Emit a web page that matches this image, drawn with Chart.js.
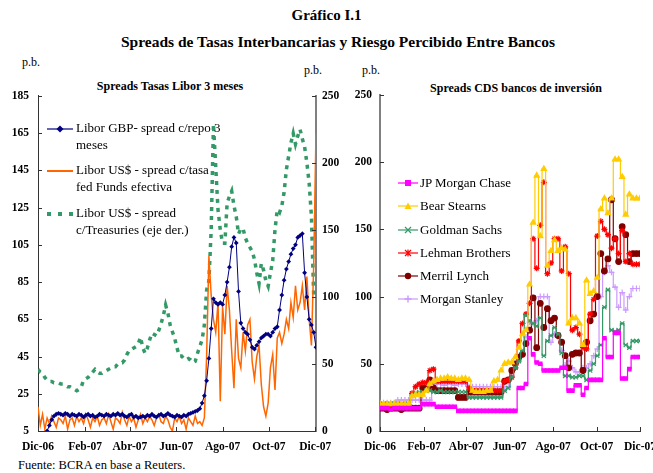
<!DOCTYPE html>
<html lang="es">
<head>
<meta charset="utf-8">
<title>Gráfico I.1</title>
<script src="https://cdn.jsdelivr.net/npm/chart.js@4.4.1/dist/chart.umd.min.js"></script>
<style>
  html, body { margin: 0; padding: 0; background: #fff; }
  body { width: 653px; height: 473px; overflow: hidden; position: relative;
         font-family: "Liberation Serif", "Times New Roman", serif; color: #000; }
  .t { position: absolute; white-space: nowrap; line-height: 1; }
  .b { font-weight: bold; }
  canvas { position: absolute; }
  .leg { position: absolute; font-size: 13px; line-height: 16.5px; white-space: nowrap; }
  .leg svg { position: absolute; left: 0; }
</style>
</head>
<body>
<div class="t b" style="left:0;width:653px;text-align:center;top:8px;font-size:15px;">Gráfico I.1</div>
<div class="t b" style="left:0;width:676px;text-align:center;top:34px;font-size:15.5px;">Spreads de Tasas Interbancarias y Riesgo Percibido Entre Bancos</div>
<div class="t" style="left:22px;top:56px;font-size:12px;">p.b.</div>
<div class="t" style="left:304px;top:64px;font-size:12px;">p.b.</div>
<div class="t" style="left:362px;top:64px;font-size:12px;">p.b.</div>
<div class="t b" style="left:70px;width:200px;text-align:center;top:80px;font-size:12px;">Spreads Tasas Libor 3 meses</div>
<div class="t b" style="left:416px;width:200px;text-align:center;top:82px;font-size:12px;">Spreads CDS bancos de inversión</div>
<div class="t" style="left:18px;top:459px;font-size:12.5px;">Fuente: BCRA en base a Reuters.</div>

<canvas id="liborChart" width="352" height="380" style="left:0;top:80px;"></canvas>
<canvas id="cdsChart" width="335" height="380" style="left:335px;top:80px;"></canvas>

<!-- leyenda izquierda -->
<div class="leg" style="left:47px;top:120px;">
  <svg width="26" height="10" style="top:4px"><line x1="0" y1="5" x2="26" y2="5" stroke="#000080" stroke-width="1.2"/><path d="M13 1.5 L16.5 5 L13 8.5 L9.5 5Z" fill="#000080"/></svg>
  <div style="margin-left:29px">Libor GBP- spread c/repo 3<br>meses</div>
</div>
<div class="leg" style="left:47px;top:162px;">
  <svg width="26" height="10" style="top:4px"><line x1="0" y1="5" x2="26" y2="5" stroke="#ff6600" stroke-width="2"/></svg>
  <div style="margin-left:29px">Libor US$ - spread c/tasa<br>fed Funds efectiva</div>
</div>
<div class="leg" style="left:47px;top:205px;">
  <svg width="26" height="10" style="top:4px"><line x1="0" y1="5" x2="26" y2="5" stroke="#339966" stroke-width="4" stroke-dasharray="4 7"/></svg>
  <div style="margin-left:29px">Libor US$ - spread<br>c/Treasuries (eje der.)</div>
</div>

<!-- leyenda derecha -->
<div class="leg" style="left:398px;top:175px;">
  <svg width="20" height="10" style="top:3px"><line x1="0" y1="5" x2="20" y2="5" stroke="#ff00ff" stroke-width="1.2"/><rect x="7" y="2" width="6" height="6" fill="#ff00ff"/></svg>
  <div style="margin-left:22px">JP Morgan Chase</div>
</div>
<div class="leg" style="left:398px;top:198px;">
  <svg width="20" height="10" style="top:3px"><line x1="0" y1="5" x2="20" y2="5" stroke="#ffcc00" stroke-width="1.2"/><path d="M10 1.5 L13.5 8 L6.5 8Z" fill="#ffcc00"/></svg>
  <div style="margin-left:22px">Bear Stearns</div>
</div>
<div class="leg" style="left:398px;top:222px;">
  <svg width="20" height="10" style="top:3px"><line x1="0" y1="5" x2="20" y2="5" stroke="#339966" stroke-width="1.2"/><path d="M7 2 L13 8 M13 2 L7 8" stroke="#339966" stroke-width="1.2"/></svg>
  <div style="margin-left:22px">Goldman Sachs</div>
</div>
<div class="leg" style="left:398px;top:245px;">
  <svg width="20" height="10" style="top:3px"><line x1="0" y1="5" x2="20" y2="5" stroke="#ff0000" stroke-width="1.2"/><path d="M7 2 L13 8 M13 2 L7 8 M10 1.5 L10 8.5" stroke="#ff0000" stroke-width="1.2"/></svg>
  <div style="margin-left:22px">Lehman Brothers</div>
</div>
<div class="leg" style="left:398px;top:268px;">
  <svg width="20" height="10" style="top:3px"><line x1="0" y1="5" x2="20" y2="5" stroke="#800000" stroke-width="1.2"/><circle cx="10" cy="5" r="3.2" fill="#800000"/></svg>
  <div style="margin-left:22px">Merril Lynch</div>
</div>
<div class="leg" style="left:398px;top:291px;">
  <svg width="20" height="10" style="top:3px"><line x1="0" y1="5" x2="20" y2="5" stroke="#cc99ff" stroke-width="1.2"/><path d="M10 1.5 L10 8.5 M6.5 5 L13.5 5" stroke="#cc99ff" stroke-width="1.4"/></svg>
  <div style="margin-left:22px">Morgan Stanley</div>
</div>

<script>
// Marcas del eje x (días desde el 1-dic-06)
const monthDays = [0, 62, 121, 182, 243, 304, 365];
const monthLabels = ['Dic-06', 'Feb-07', 'Abr-07', 'Jun-07', 'Ago-07', 'Oct-07', 'Dic-07'];
const liborLeftTicks = [5, 25, 45, 65, 85, 105, 125, 145, 165, 185];

// Libor: un dato cada 3 días
const gbpRepo = [null, null, null, null, 5, 8, 11, 13, 14, 14.5,
  14, 13.5, 14.5, 14, 13, 14, 13.5, 13, 14, 13.5,
  12.5, 13.5, 14, 13, 13.5, 12.5, 13, 14, 13.5, 13,
  14, 13.5, 13, 14, 13.5, 14.5, 13.5, 14, 13, 12.5,
  13.5, 14, 12.5, 13, 12, 12.5, 13, 12.5, 13.5, 13,
  14, 13, 12.5, 13.5, 14, 13, 13.5, 14.5, 13.5, 13,
  12.5, 13.5, 13, 12.5, 13.5, 13, 14, 14.5, 15, 15.5,
  16, 17, 20, 24, 32, 44, 60, 76, 74, 73,
  74, 73, 78, 85, 93, 104, 109, 106, 80, 63,
  60, 58, 57, 54, 50, 49, 51, 53, 55, 56,
  57, 57, 56, 58, 60, 61, 70, 78, 86, 92,
  96, 100, 103, 105, 109, 110, 111, 90, 77, 65,
  62, 58, 50];
const usdFedFunds = [18, 8, 14, 6, 12, 9, 13, 10, 7, 12,
  11, 9, 13, 6, 11, 12, 8, 13, 10, 12,
  9, 14, 11, 7, 12, 10, 13, 8, 11, 12,
  9, 14, 10, 6, 12, 11, 9, 15, 11, 8,
  13, 10, 12, 7, 11, 14, 9, 12, 10, 13,
  11, 8, 12, 14, 10, 9, 13, 11, 7, 5,
  12, 10, 13, 9, 11, 6, 12, 10, 8, 13,
  9, 10, 8, 12, 45, 99, 78, 65, 58, 74,
  21, 72, 57, 83, 70, 48, 28, 65, 44, 39,
  58, 48, 62, 65, 42, 33, 45, 51, 30, 18,
  13, 20, 39, 46, 27, 55, 58, 52, 57, 65,
  60, 74, 66, 83, 70, 74, 83, 70, 88, 65,
  51, 95, 165];
const usdTreasuries = [46, 44, 43, 40, 38, 37, 37, 36, 36, 36,
  35, 35, 34, 33, 33, 32, 31, 30, 31, 33,
  38, 39, 40, 42, 44, 46, 44, 43, 43, 44,
  45, 46, 47, 48, 48, 50, 51, 51, 53, 57,
  60, 61, 62, 63, 65, 70, 62, 58, 62, 68,
  73, 72, 71, 75, 80, 86, 94, 88, 79, 74,
  69, 62, 56, 56, 54, 53, 54, 53, 51, 52,
  58, 63, 68, 79, 105, 112, 150, 229, 197, 165,
  150, 140, 140, 170, 175, 179, 168, 160, 147, 151,
  151, 144, 140, 137, 134, 128, 118, 110, 125, 120,
  112, 108, 118, 127, 150, 165, 163, 168, 178, 195,
  205, 215, 222, 214, 220, 225, 218, 212, 200, 185,
  160, 100, 110];

// CDS: un dato cada 5 días
const cdsJpm = [17, 17, 17, 16, 17, 17, 17, 17, 17, 17,
  17, 17, 20, 20, 20, 20, 18, 18, 18, 18,
  18, 18, 15, 15, 15, 15, 15, 15, 15, 15,
  15, 15, 15, 15, 15, 15, 15, 15, 15, 32,
  32, 35, 69, 57, 51, 50, 45, 45, 45, 45,
  45, 47, 47, 30, 30, 34, 34, 27, 32, 38,
  38, 38, 38, 69, 55, 55, 73, 73, 39, 39,
  46, 55, 55, 55];
const cdsBear = [20, 20, 20, 20, 20, 20, 20, 20, 20, 26,
  27, 27, 27, 30, 35, 37, 38, 39, 39, 40,
  39, 39, 38, 39, 39, 38, 30, 29, 29, 29,
  30, 30, 37, 38, 45, 50, 51, 51, 55, 62,
  72, 75, 109, 155, 190, 145, 195, 123, 134, 142,
  134, 136, 135, 80, 84, 84, 80, 64, 112, 102,
  104, 114, 165, 173, 162, 173, 202, 202, 189, 161,
  176, 173, 173, 173];
const cdsGoldman = [20, 20, 20, 20, 20, 20, 20, 20, 20, 26,
  28, 29, 29, 30, 30, 29, 29, 30, 29, 29,
  29, 29, 29, 29, 29, 25, 25, 25, 25, 25,
  25, 25, 25, 25, 25, 30, 32, 40, 47, 52,
  60, 86, 82, 80, 78, 84, 56, 67, 71, 77,
  72, 58, 41, 41, 40, 40, 41, 41, 38, 45,
  50, 56, 64, 92, 105, 75, 74, 75, 80, 64,
  62, 67, 67, 67];
const cdsLehman = [20, 20, 20, 20, 20, 20, 20, 20, 20, 28,
  33, 35, 36, 36, 45, 46, 37, 37, 37, 37,
  37, 37, 37, 37, 37, 32, 30, 30, 30, 30,
  30, 30, 30, 30, 30, 37, 38, 40, 47, 67,
  80, 87, 95, 143, 121, 153, 185, 117, 125, 143,
  143, 119, 137, 117, 75, 77, 72, 62, 61, 87,
  98, 145, 156, 150, 146, 136, 143, 132, 149, 126,
  132, 124, 124, 124];
const cdsMerrill = [17, 17, 16, 17, 17, 17, 16, 17, 17, 17,
  17, 17, 32, 32, 38, 32, 30, 30, 30, 30,
  30, 30, 25, 25, 25, 29, 29, 29, 29, 29,
  29, 29, 29, 29, 29, 37, 38, 45, 50, 55,
  57, 65, 75, 99, 62, 95, 77, 91, 82, 84,
  71, 66, 56, 47, 57, 58, 58, 45, 66, 82,
  87, 100, 132, 119, 128, 172, 143, 126, 152, 146,
  126, 132, 132, 132];
const cdsMorgan = [21, 21, 21, 21, 21, 23, 23, 23, 23, 23,
  23, 23, 23, 23, 23, 35, 35, 35, 34, 35,
  35, 34, 35, 35, 35, 33, 33, 33, 33, 33,
  33, 33, 33, 33, 33, 33, 33, 40, 47, 52,
  58, 70, 81, 80, 82, 100, 100, 100, 66, 72,
  70, 60, 49, 52, 47, 44, 44, 47, 47, 50,
  56, 61, 100, 118, 123, 118, 107, 92, 103, 90,
  100, 106, 106, 106];

const liborDays = gbpRepo.map((_, i) => i * 3);
const cdsDays = cdsJpm.map((_, i) => i * 5);

function toPoints(days, values) {
    return values.map((v, i) => ({ x: days[i], y: v }));
}
function fixedWidth(w) { return s => { s.width = w; }; }
function fixedHeight(h) { return s => { s.height = h; }; }
function setTicks(values) { return s => { s.ticks = values.map(v => ({ value: v })); }; }

const tickFont = { family: 'Liberation Serif', size: 11.5, weight: 'bold' };
const noGrid = { display: false, drawTicks: false };

// Marcas de graduación hacia adentro del área de gráfico
const innerTicks = {
    id: 'innerTicks',
    afterDatasetsDraw(chart) {
        const ctx = chart.ctx, a = chart.chartArea;
        ctx.save();
        ctx.strokeStyle = '#333';
        ctx.lineWidth = 1;
        Object.values(chart.scales).forEach(s => {
            s.ticks.forEach(t => {
                const p = Math.round(s.getPixelForValue(t.value)) + 0.5;
                ctx.beginPath();
                if (s.isHorizontal()) {
                    ctx.moveTo(p, a.bottom); ctx.lineTo(p, a.bottom - 4);
                } else if (s.position === 'left') {
                    ctx.moveTo(a.left, p); ctx.lineTo(a.left + 4, p);
                } else {
                    ctx.moveTo(a.right, p); ctx.lineTo(a.right - 4, p);
                }
                ctx.stroke();
            });
        });
        ctx.restore();
    }
};

function xScale(max) {
    return {
        type: 'linear', min: 0, max: max,
        afterBuildTicks: setTicks(monthDays),
        afterFit: fixedHeight(29),
        grid: noGrid,
        border: { color: '#333', width: 1 },
        ticks: { font: tickFont, color: '#000', padding: 9, autoSkip: false, maxRotation: 0,
                 callback: (v, i) => monthLabels[i] }
    };
}

Chart.defaults.font.family = 'Liberation Serif';

new Chart(document.getElementById('liborChart'), {
    type: 'line',
    data: {
        datasets: [
            {
                label: 'Libor GBP- spread c/repo 3 meses',
                data: toPoints(liborDays, gbpRepo),
                yAxisID: 'y',
                borderColor: '#000080',
                backgroundColor: '#000080',
                borderWidth: 1,
                pointStyle: 'rectRot',
                pointRadius: 2.4,
                pointBorderWidth: 0
            },
            {
                label: 'Libor US$ - spread c/tasa fed Funds efectiva',
                data: toPoints(liborDays, usdFedFunds),
                yAxisID: 'y',
                borderColor: '#ff6600',
                borderWidth: 1.5,
                pointRadius: 0
            },
            {
                label: 'Libor US$ - spread c/Treasuries (eje der.)',
                data: toPoints(liborDays, usdTreasuries),
                yAxisID: 'y1',
                borderColor: '#339966',
                borderWidth: 3.5,
                borderDash: [4, 5],
                borderCapStyle: 'butt',
                pointRadius: 0
            }
        ]
    },
    options: {
        responsive: false,
        animation: false,
        devicePixelRatio: 1,
        layout: { padding: { top: 10, left: 0, right: 0, bottom: 0 } },
        plugins: { legend: { display: false }, tooltip: { enabled: false } },
        scales: {
            x: xScale(366),
            y: {
                position: 'left', min: 5, max: 185,
                afterBuildTicks: setTicks(liborLeftTicks),
                afterFit: fixedWidth(38),
                grid: noGrid,
                border: { color: '#333', width: 1 },
                ticks: { font: tickFont, color: '#000', padding: 9 }
            },
            y1: {
                position: 'right', min: 0, max: 250,
                afterFit: fixedWidth(36),
                grid: noGrid,
                border: { color: '#808080', width: 2 },
                ticks: { stepSize: 50, font: tickFont, color: '#000', padding: 6 }
            }
        }
    },
    plugins: [innerTicks]
});

function cdsSet(label, values, color, style, radius) {
    return {
        label: label,
        data: toPoints(cdsDays, values),
        borderColor: color,
        backgroundColor: color,
        borderWidth: 1.2,
        stepped: 'middle',
        pointStyle: style,
        pointRadius: radius,
        pointBorderColor: color,
        pointBackgroundColor: color,
        pointBorderWidth: 1.2
    };
}

new Chart(document.getElementById('cdsChart'), {
    type: 'line',
    data: {
        datasets: [
            cdsSet('JP Morgan Chase', cdsJpm, '#ff00ff', 'rect', 2.4),
            cdsSet('Bear Stearns', cdsBear, '#ffcc00', 'triangle', 3),
            cdsSet('Goldman Sachs', cdsGoldman, '#339966', 'crossRot', 3),
            cdsSet('Lehman Brothers', cdsLehman, '#ff0000', 'star', 3),
            cdsSet('Merril Lynch', cdsMerrill, '#800000', 'circle', 2.8),
            cdsSet('Morgan Stanley', cdsMorgan, '#cc99ff', 'cross', 3)
        ]
    },
    options: {
        responsive: false,
        animation: false,
        devicePixelRatio: 1,
        layout: { padding: { top: 13, left: 0, right: 30, bottom: 0 } },
        plugins: { legend: { display: false }, tooltip: { enabled: false } },
        scales: {
            x: xScale(365),
            y: {
                position: 'left', min: 0, max: 250,
                afterFit: fixedWidth(45),
                grid: noGrid,
                border: { color: '#808080', width: 2 },
                ticks: { stepSize: 50, font: tickFont, color: '#000', padding: 8 }
            }
        }
    },
    plugins: [innerTicks]
});
</script>
</body>
</html>
